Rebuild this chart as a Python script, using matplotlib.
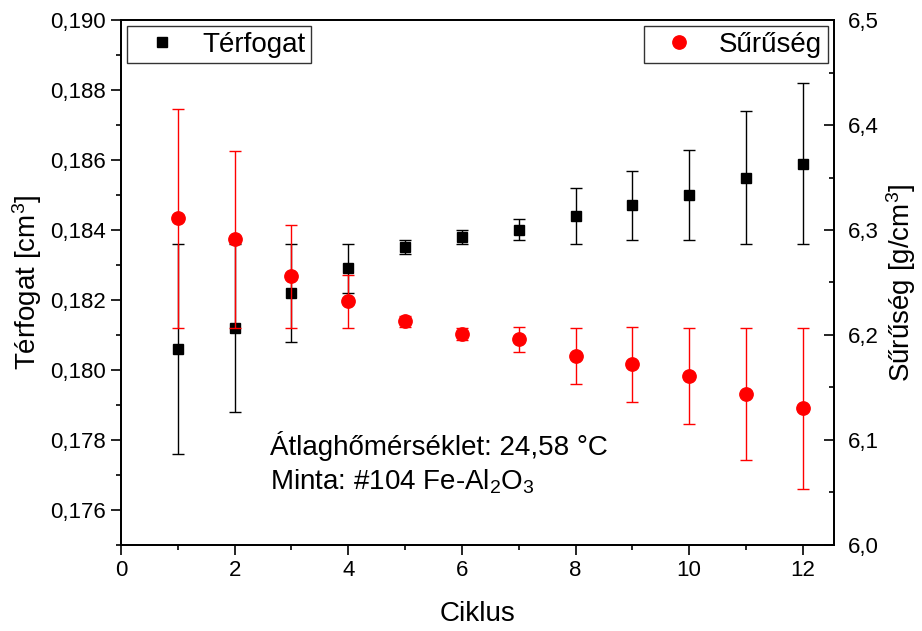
import matplotlib
matplotlib.use("Agg")
import matplotlib.pyplot as plt
from matplotlib.lines import Line2D
from matplotlib.ticker import MultipleLocator, FuncFormatter


# -----------------------------
# Data
# -----------------------------
cycles = [1, 2, 3, 4, 5, 6, 7, 8, 9, 10, 11, 12]

volume = [0.1806, 0.1812, 0.1822, 0.1829, 0.1835, 0.1838,
          0.1840, 0.1844, 0.1847, 0.1850, 0.1855, 0.1859]
volume_err = [0.0030, 0.0024, 0.0014, 0.0007, 0.0002, 0.0002,
              0.0003, 0.0008, 0.0010, 0.0013, 0.0019, 0.0023]

density = [6.311, 6.291, 6.256, 6.232, 6.213, 6.201,
           6.196, 6.180, 6.172, 6.161, 6.144, 6.130]
density_err = [0.104, 0.084, 0.049, 0.025, 0.005, 0.006,
               0.012, 0.027, 0.036, 0.046, 0.063, 0.077]

info_lines = ["Átlaghőmérséklet: 24,58 °C", "Minta: #104 Fe-Al$_2$O$_3$"]


# -----------------------------
# Style
# -----------------------------
plt.rcParams["font.family"] = ["Liberation Sans", "DejaVu Sans"]
plt.rcParams["mathtext.fontset"] = "custom"
plt.rcParams["mathtext.rm"] = "Liberation Sans"
plt.rcParams["mathtext.it"] = "Liberation Sans:italic"
plt.rcParams["axes.linewidth"] = 1.3

RED = "#ff0000"
TICK_FS = 16
LABEL_FS = 20


def comma_fmt(decimals):
    return FuncFormatter(lambda v, pos: f"{v:.{decimals}f}".replace(".", ","))


fig = plt.figure(figsize=(9.22, 6.31), dpi=100)
ax = fig.add_axes([0.1312, 0.1363, 0.7734, 0.8320])
ax2 = ax.twinx()

# volume (left axis)
ax.errorbar(cycles, volume, yerr=volume_err, fmt="s", color="black",
            ms=7.2, elinewidth=1, capsize=4.6, capthick=1)

# density (right axis)
ax2.errorbar(cycles, density, yerr=density_err, fmt="o", color=RED,
             ecolor=RED, ms=9.6, elinewidth=1, capsize=4.4, capthick=1)

ax.set_xlim(0, 12.55)
ax.set_ylim(0.175, 0.190)
ax2.set_ylim(6.0, 6.5)

ax.xaxis.set_major_locator(MultipleLocator(2))
ax.xaxis.set_minor_locator(MultipleLocator(1))
ax.yaxis.set_major_locator(MultipleLocator(0.002))
ax.yaxis.set_minor_locator(MultipleLocator(0.001))
ax.yaxis.set_major_formatter(comma_fmt(3))
ax2.yaxis.set_major_locator(MultipleLocator(0.1))
ax2.yaxis.set_minor_locator(MultipleLocator(0.05))
ax2.yaxis.set_major_formatter(comma_fmt(1))

ax.tick_params(which="both", direction="out", top=False, right=False,
               labelsize=TICK_FS, width=1.2)
ax.tick_params(which="major", length=7, pad=4)
ax.tick_params(which="minor", length=3.5)
ax2.tick_params(which="both", direction="in", labelsize=TICK_FS, width=1.2)
ax2.tick_params(which="major", length=7, pad=10)
ax2.tick_params(which="minor", length=3.5)

ax.set_xlabel("Ciklus", fontsize=LABEL_FS, labelpad=14)
ax.set_ylabel("Térfogat [cm$^3$]", fontsize=LABEL_FS, labelpad=4)
ax2.set_ylabel("Sűrűség [g/cm$^3$]", fontsize=LABEL_FS, labelpad=4)

# info text
ax.text(0.209, 0.171, info_lines[0], transform=ax.transAxes,
        fontsize=LABEL_FS, va="baseline")
ax.text(0.209, 0.105, info_lines[1], transform=ax.transAxes,
        fontsize=LABEL_FS, va="baseline")

# legends
legend_kw = dict(fontsize=LABEL_FS, frameon=True, fancybox=False,
                 edgecolor="#333333", framealpha=1, borderpad=0.2,
                 borderaxespad=0.22, handlelength=2.1, handletextpad=0.4)
h_vol = Line2D([], [], ls="none", marker="s", ms=7.2, color="black")
h_den = Line2D([], [], ls="none", marker="o", ms=9.6, color=RED)
leg1 = ax.legend([h_vol], ["Térfogat"], loc="upper left", **legend_kw)
leg1.get_frame().set_linewidth(1.0)
leg2 = ax2.legend([h_den], ["Sűrűség"], loc="upper right", **legend_kw)
leg2.get_frame().set_linewidth(1.0)

fig.savefig("out.png", dpi=100)
